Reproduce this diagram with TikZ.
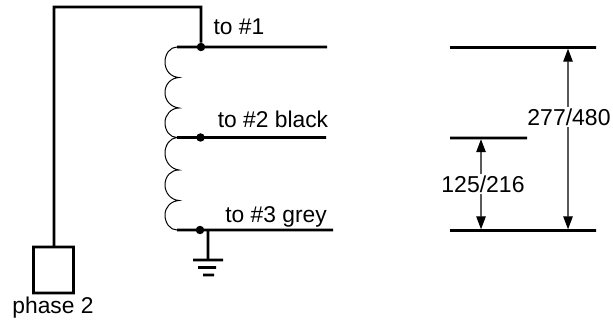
\documentclass[tikz,border=0pt]{standalone}
\usepackage{fontspec}
\setmainfont{Liberation Sans}
\usetikzlibrary{arrows.meta}
\tikzset{
  wire/.style={line width=2.7pt,line cap=butt},
  coilwire/.style={line width=1pt},
  junction/.style={circle,fill=black,inner sep=0pt,minimum size=8.5pt},
  lbl/.style={font=\fontsize{22.8}{24}\selectfont,inner sep=0pt,anchor=base},
  dimlabel/.style={font=\fontsize{23}{24}\selectfont,fill=white,inner sep=1.5pt,anchor=center},
  dimarrow/.style={line width=1.2pt,{Triangle[length=13pt,width=9.5pt]}-{Triangle[length=13pt,width=9.5pt]}},
  terminal/.style={draw,line width=2.7pt,minimum width=40pt,minimum height=46pt,inner sep=0pt,rotate=0.03}
}
\begin{document}
\begin{tikzpicture}[x=1pt,y=-1pt]
\useasboundingbox (0,0) rectangle (613,326);
% junctions and free ends
\node[junction] (j1) at (201,47) {};
\node[junction] (j2) at (200.5,137.5) {};
\node[junction] (j3) at (200,230) {};
\node[terminal] (box) at (53.5,270) {};
\coordinate (c1) at (54,7);
\coordinate (c2) at (201,7.03);
\coordinate (c3) at (54.03,246);
\coordinate (t0) at (177,47);
\coordinate (e1) at (327,47.03);
\coordinate (t2) at (177,137.5);
\coordinate (e2) at (326,137.53);
\coordinate (t3) at (177,230);
\coordinate (e3) at (333,230.03);
\coordinate (g0) at (208,230);
\coordinate (g1) at (208.03,260);
% feed
\draw[wire,line join=miter] (c3) -- (c1) -- (c2) -- (j1);
% taps
\draw[wire] (t0) -- (e1);
\draw[wire] (t2) -- (e2);
\draw[wire] (t3) -- (e3);
% coil
\draw[coilwire] (t0)
  .. controls (170,47) and (165,54) .. (165,62)
  .. controls (165,71) and (171,77) .. (179,77.5)
  .. controls (171,78) and (165,84) .. (165,92.5)
  .. controls (165,101) and (171,107) .. (179,108)
  .. controls (171,108) and (165,115) .. (165,122.5)
  .. controls (165,131) and (170,137.5) .. (t2)
  .. controls (170,138) and (165,145) .. (165,153)
  .. controls (165,162) and (171,169) .. (179,170)
  .. controls (171,170) and (165,176) .. (165,185)
  .. controls (165,193) and (171,200) .. (179,200.5)
  .. controls (171,201) and (165,207) .. (165,215)
  .. controls (165,223) and (170,230) .. (t3);
% ground
\draw[wire] (g0) -- (g1);
\coordinate (g1a) at (193,260); \coordinate (g1b) at (223,260.03);
\coordinate (g2a) at (198,267.5); \coordinate (g2b) at (216,267.53);
\coordinate (g3a) at (203,275); \coordinate (g3b) at (214,275.03);
\draw[wire] (g1a) -- (g1b);
\draw[wire] (g2a) -- (g2b);
\draw[wire] (g3a) -- (g3b);
% labels
\node[lbl] (l1) at (239,35) {to \#1};
\node[lbl] (l2) at (273,128) {to \#2 black};
\node[lbl] (l3) at (276,222) {to \#3 grey};
\node[lbl] (l4) at (53,313) {phase 2};
% dimension levels
\coordinate (a1) at (450,47.5); \coordinate (a2) at (596,47.53);
\coordinate (b1) at (450,138); \coordinate (b2) at (527,138.03);
\coordinate (d1) at (450,230.5); \coordinate (d2) at (596,230.53);
\draw[wire] (a1) -- (a2);
\draw[wire] (b1) -- (b2);
\draw[wire] (d1) -- (d2);
\coordinate (p1) at (568,48.7); \coordinate (p2) at (568.03,229.3);
\coordinate (q1) at (481,139.2); \coordinate (q2) at (481.03,229.3);
\draw[dimarrow] (p1) -- (p2);
\draw[dimarrow] (q1) -- (q2);
\node[dimlabel] (m1) at (569,117) {277/480};
\node[dimlabel] (m2) at (483,184) {125/216};
\end{tikzpicture}
\end{document}
